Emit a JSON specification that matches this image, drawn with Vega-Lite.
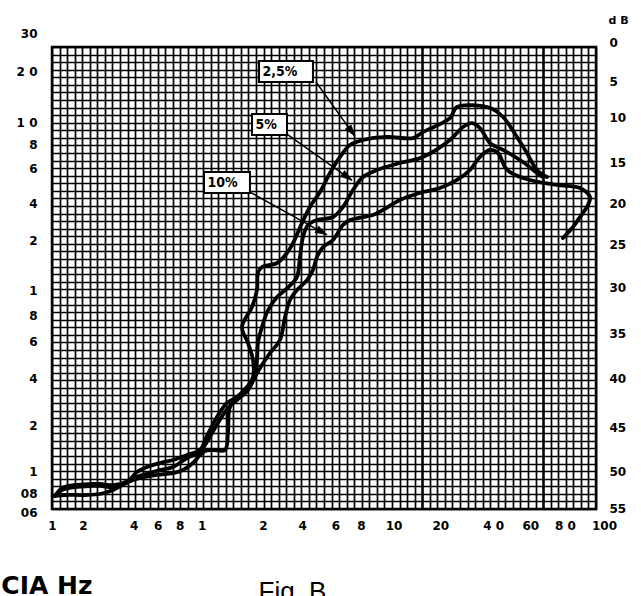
{
  "$schema": "https://vega.github.io/schema/vega-lite/v6.json",
  "width": 544,
  "height": 462,
  "autosize": "none",
  "padding": {"left": 52, "top": 47, "right": 45, "bottom": 87},
  "background": "white",
  "config": {
    "view": {"stroke": "#000", "strokeWidth": 2.5, "fill": "white"},
    "axis": {
      "labelFont": "DejaVu Sans",
      "labelFontWeight": "bold",
      "labelFontSize": 12,
      "labelColor": "#000",
      "labelOverlap": false,
      "labelFlush": false,
      "ticks": false,
      "domain": false,
      "gridColor": "#000",
      "gridWidth": 1.7,
      "gridOpacity": 1
    }
  },
  "datasets": {
    "curves": [
      {"series": "2,5%", "i": 0, "freq": 0.4, "level": 1.72},
      {"series": "2,5%", "i": 1, "freq": 1.32, "level": 2.77},
      {"series": "2,5%", "i": 2, "freq": 3.04, "level": 3.17},
      {"series": "2,5%", "i": 3, "freq": 5.03, "level": 3.3},
      {"series": "2,5%", "i": 4, "freq": 6.35, "level": 3.3},
      {"series": "2,5%", "i": 5, "freq": 8.34, "level": 3.17},
      {"series": "2,5%", "i": 6, "freq": 10.06, "level": 3.7},
      {"series": "2,5%", "i": 7, "freq": 11.25, "level": 4.89},
      {"series": "2,5%", "i": 8, "freq": 12.57, "level": 5.55},
      {"series": "2,5%", "i": 9, "freq": 14.29, "level": 6.07},
      {"series": "2,5%", "i": 10, "freq": 16.01, "level": 6.47},
      {"series": "2,5%", "i": 11, "freq": 17.87, "level": 7.13},
      {"series": "2,5%", "i": 12, "freq": 19.59, "level": 7.79},
      {"series": "2,5%", "i": 13, "freq": 20.51, "level": 9.64},
      {"series": "2,5%", "i": 14, "freq": 21.84, "level": 12.15},
      {"series": "2,5%", "i": 15, "freq": 23.16, "level": 14.0},
      {"series": "2,5%", "i": 16, "freq": 24.48, "level": 14.79},
      {"series": "2,5%", "i": 17, "freq": 25.81, "level": 16.11},
      {"series": "2,5%", "i": 18, "freq": 26.6, "level": 17.43},
      {"series": "2,5%", "i": 19, "freq": 26.6, "level": 19.67},
      {"series": "2,5%", "i": 20, "freq": 25.94, "level": 21.92},
      {"series": "2,5%", "i": 21, "freq": 25.15, "level": 24.03},
      {"series": "2,5%", "i": 22, "freq": 26.47, "level": 26.67},
      {"series": "2,5%", "i": 23, "freq": 27.13, "level": 28.91},
      {"series": "2,5%", "i": 24, "freq": 27.26, "level": 31.16},
      {"series": "2,5%", "i": 25, "freq": 27.79, "level": 31.95},
      {"series": "2,5%", "i": 26, "freq": 29.78, "level": 32.48},
      {"series": "2,5%", "i": 27, "freq": 31.1, "level": 33.8},
      {"series": "2,5%", "i": 28, "freq": 31.9, "level": 35.12},
      {"series": "2,5%", "i": 29, "freq": 33.09, "level": 37.76},
      {"series": "2,5%", "i": 30, "freq": 34.14, "level": 39.87},
      {"series": "2,5%", "i": 31, "freq": 35.47, "level": 41.85},
      {"series": "2,5%", "i": 32, "freq": 36.79, "level": 44.36},
      {"series": "2,5%", "i": 33, "freq": 38.12, "level": 46.48},
      {"series": "2,5%", "i": 34, "freq": 39.44, "level": 48.06},
      {"series": "2,5%", "i": 35, "freq": 41.16, "level": 48.72},
      {"series": "2,5%", "i": 36, "freq": 44.34, "level": 49.12},
      {"series": "2,5%", "i": 37, "freq": 47.78, "level": 48.98},
      {"series": "2,5%", "i": 38, "freq": 49.1, "level": 49.77},
      {"series": "2,5%", "i": 39, "freq": 52.67, "level": 51.62},
      {"series": "2,5%", "i": 40, "freq": 53.6, "level": 53.08},
      {"series": "2,5%", "i": 41, "freq": 57.97, "level": 52.94},
      {"series": "2,5%", "i": 42, "freq": 59.69, "level": 51.76},
      {"series": "2,5%", "i": 43, "freq": 61.54, "level": 49.12},
      {"series": "2,5%", "i": 44, "freq": 62.86, "level": 47.0},
      {"series": "2,5%", "i": 45, "freq": 64.19, "level": 44.76},
      {"series": "2,5%", "i": 46, "freq": 65.51, "level": 43.83},
      {"series": "5%", "i": 0, "freq": 0.4, "level": 1.72},
      {"series": "5%", "i": 1, "freq": 1.32, "level": 2.51},
      {"series": "5%", "i": 2, "freq": 3.04, "level": 2.9},
      {"series": "5%", "i": 3, "freq": 5.03, "level": 3.04},
      {"series": "5%", "i": 4, "freq": 6.35, "level": 3.04},
      {"series": "5%", "i": 5, "freq": 8.34, "level": 2.9},
      {"series": "5%", "i": 6, "freq": 10.06, "level": 3.56},
      {"series": "5%", "i": 7, "freq": 11.25, "level": 4.22},
      {"series": "5%", "i": 8, "freq": 12.97, "level": 4.75},
      {"series": "5%", "i": 9, "freq": 14.29, "level": 5.15},
      {"series": "5%", "i": 10, "freq": 16.01, "level": 5.55},
      {"series": "5%", "i": 11, "freq": 17.87, "level": 6.73},
      {"series": "5%", "i": 12, "freq": 19.59, "level": 7.53},
      {"series": "5%", "i": 13, "freq": 20.25, "level": 8.45},
      {"series": "5%", "i": 14, "freq": 21.57, "level": 10.69},
      {"series": "5%", "i": 15, "freq": 22.9, "level": 12.81},
      {"series": "5%", "i": 16, "freq": 24.22, "level": 14.39},
      {"series": "5%", "i": 17, "freq": 25.54, "level": 15.71},
      {"series": "5%", "i": 18, "freq": 26.87, "level": 17.43},
      {"series": "5%", "i": 19, "freq": 27.13, "level": 19.67},
      {"series": "5%", "i": 20, "freq": 27.26, "level": 21.92},
      {"series": "5%", "i": 21, "freq": 27.79, "level": 24.03},
      {"series": "5%", "i": 22, "freq": 28.6, "level": 26.27},
      {"series": "5%", "i": 23, "freq": 29.8, "level": 27.99},
      {"series": "5%", "i": 24, "freq": 31.3, "level": 29.31},
      {"series": "5%", "i": 25, "freq": 32.42, "level": 30.63},
      {"series": "5%", "i": 26, "freq": 32.82, "level": 33.27},
      {"series": "5%", "i": 27, "freq": 33.22, "level": 35.91},
      {"series": "5%", "i": 28, "freq": 33.88, "level": 37.5},
      {"series": "5%", "i": 29, "freq": 35.07, "level": 38.16},
      {"series": "5%", "i": 30, "freq": 37.19, "level": 38.55},
      {"series": "5%", "i": 31, "freq": 38.51, "level": 39.87},
      {"series": "5%", "i": 32, "freq": 39.84, "level": 42.12},
      {"series": "5%", "i": 33, "freq": 41.16, "level": 43.83},
      {"series": "5%", "i": 34, "freq": 43.01, "level": 44.76},
      {"series": "5%", "i": 35, "freq": 46.06, "level": 45.68},
      {"series": "5%", "i": 36, "freq": 49.1, "level": 46.48},
      {"series": "5%", "i": 37, "freq": 52.67, "level": 48.72},
      {"series": "5%", "i": 38, "freq": 54.39, "level": 50.44},
      {"series": "5%", "i": 39, "freq": 55.59, "level": 50.96},
      {"series": "5%", "i": 40, "freq": 56.64, "level": 50.3},
      {"series": "5%", "i": 41, "freq": 57.97, "level": 48.32},
      {"series": "5%", "i": 42, "freq": 58.89, "level": 47.79},
      {"series": "5%", "i": 43, "freq": 60.22, "level": 47.13},
      {"series": "5%", "i": 44, "freq": 62.33, "level": 45.81},
      {"series": "5%", "i": 45, "freq": 64.19, "level": 44.36},
      {"series": "5%", "i": 46, "freq": 64.98, "level": 43.83},
      {"series": "10%", "i": 0, "freq": 0.4, "level": 1.72},
      {"series": "10%", "i": 1, "freq": 1.72, "level": 1.85},
      {"series": "10%", "i": 2, "freq": 4.37, "level": 1.85},
      {"series": "10%", "i": 3, "freq": 6.35, "level": 1.98},
      {"series": "10%", "i": 4, "freq": 8.07, "level": 2.51},
      {"series": "10%", "i": 5, "freq": 10.06, "level": 3.56},
      {"series": "10%", "i": 6, "freq": 11.65, "level": 4.09},
      {"series": "10%", "i": 7, "freq": 13.9, "level": 4.49},
      {"series": "10%", "i": 8, "freq": 16.01, "level": 4.75},
      {"series": "10%", "i": 9, "freq": 17.34, "level": 5.15},
      {"series": "10%", "i": 10, "freq": 18.66, "level": 6.07},
      {"series": "10%", "i": 11, "freq": 19.59, "level": 7.13},
      {"series": "10%", "i": 12, "freq": 20.25, "level": 7.66},
      {"series": "10%", "i": 13, "freq": 21.31, "level": 7.79},
      {"series": "10%", "i": 14, "freq": 22.9, "level": 7.79},
      {"series": "10%", "i": 15, "freq": 23.29, "level": 10.03},
      {"series": "10%", "i": 16, "freq": 23.56, "level": 13.47},
      {"series": "10%", "i": 17, "freq": 24.48, "level": 14.39},
      {"series": "10%", "i": 18, "freq": 25.94, "level": 15.71},
      {"series": "10%", "i": 19, "freq": 27.13, "level": 17.96},
      {"series": "10%", "i": 20, "freq": 28.85, "level": 20.6},
      {"series": "10%", "i": 21, "freq": 30.17, "level": 22.31},
      {"series": "10%", "i": 22, "freq": 30.84, "level": 25.35},
      {"series": "10%", "i": 23, "freq": 31.5, "level": 27.59},
      {"series": "10%", "i": 24, "freq": 32.42, "level": 28.91},
      {"series": "10%", "i": 25, "freq": 33.75, "level": 30.23},
      {"series": "10%", "i": 26, "freq": 34.54, "level": 31.56},
      {"series": "10%", "i": 27, "freq": 35.07, "level": 33.27},
      {"series": "10%", "i": 28, "freq": 35.87, "level": 34.59},
      {"series": "10%", "i": 29, "freq": 37.19, "level": 35.52},
      {"series": "10%", "i": 30, "freq": 38.51, "level": 37.5},
      {"series": "10%", "i": 31, "freq": 39.44, "level": 38.16},
      {"series": "10%", "i": 32, "freq": 42.48, "level": 38.82},
      {"series": "10%", "i": 33, "freq": 43.81, "level": 39.48},
      {"series": "10%", "i": 34, "freq": 46.06, "level": 40.8},
      {"series": "10%", "i": 35, "freq": 49.1, "level": 41.85},
      {"series": "10%", "i": 36, "freq": 51.35, "level": 42.38},
      {"series": "10%", "i": 37, "freq": 53.6, "level": 43.44},
      {"series": "10%", "i": 38, "freq": 55.32, "level": 44.76},
      {"series": "10%", "i": 39, "freq": 56.64, "level": 46.48},
      {"series": "10%", "i": 40, "freq": 57.97, "level": 47.4},
      {"series": "10%", "i": 41, "freq": 59.03, "level": 47.0},
      {"series": "10%", "i": 42, "freq": 59.95, "level": 45.15},
      {"series": "10%", "i": 43, "freq": 60.61, "level": 44.49},
      {"series": "10%", "i": 44, "freq": 63.26, "level": 43.44},
      {"series": "10%", "i": 45, "freq": 66.83, "level": 42.78},
      {"series": "10%", "i": 46, "freq": 69.88, "level": 42.38},
      {"series": "10%", "i": 47, "freq": 71.2, "level": 41.19},
      {"series": "10%", "i": 48, "freq": 70.94, "level": 40.14},
      {"series": "10%", "i": 49, "freq": 69.88, "level": 38.55},
      {"series": "10%", "i": 50, "freq": 68.95, "level": 37.23},
      {"series": "10%", "i": 51, "freq": 67.63, "level": 35.78}
    ],
    "boxes": [
      {"label": "2,5%", "x": 27.4, "x2": 34.54, "y": 59.15, "y2": 56.38},
      {"label": "5%", "x": 26.47, "x2": 31.1, "y": 52.15, "y2": 49.38},
      {"label": "10%", "x": 20.12, "x2": 26.2, "y": 44.49, "y2": 41.72}
    ],
    "arrows": [
      {"label": "2,5%", "x": 34.94, "y": 56.38, "x2": 40.1, "y2": 49.2},
      {"label": "5%", "x": 31.1, "y": 49.51, "x2": 39.7, "y2": 43.4},
      {"label": "10%", "x": 26.2, "y": 41.85, "x2": 36.39, "y2": 36.2}
    ]
  },
  "resolve": {"axis": {"x": "independent", "y": "independent"}},
  "layer": [
    {
      "data": {"name": "curves"},
      "mark": {"type": "line", "color": "#000", "strokeWidth": 3.8, "strokeJoin": "round", "strokeCap": "round", "interpolate": "catmull-rom"},
      "encoding": {
        "x": {
          "field": "freq", "type": "quantitative",
          "scale": {"domain": [0, 72], "nice": false, "zero": false},
          "axis": {
            "orient": "top",
            "values": [0,1,2,3,4,5,6,7,8,9,10,11,12,13,14,15,16,17,18,19,20,21,22,23,24,25,26,27,28,29,30,31,32,33,34,35,36,37,38,39,40,41,42,43,44,45,46,47,48,49,50,51,52,53,54,55,56,57,58,59,60,61,62,63,64,65,66,67,68,69,70,71,72],
            "grid": true,
            "gridWidth": {"condition": {"test": "datum.value == 49 || datum.value == 65", "value": 2.6}, "value": 1.7},
            "labels": false,
            "title": "Fig. B",
            "titleFont": "Liberation Sans",
            "titleFontWeight": "normal",
            "titleFontSize": 26,
            "titleColor": "#000",
            "titleAlign": "left",
            "titleBaseline": "alphabetic",
            "titleX": 206,
            "titleY": 552
          }
        },
        "y": {
          "field": "level", "type": "quantitative",
          "scale": {"domain": [0, 61], "nice": false, "zero": false},
          "axis": {
            "orient": "right",
            "values": [0,1,2,3,4,5,6,7,8,9,10,11,12,13,14,15,16,17,18,19,20,21,22,23,24,25,26,27,28,29,30,31,32,33,34,35,36,37,38,39,40,41,42,43,44,45,46,47,48,49,50,51,52,53,54,55,56,57,58,59,60,61,56.4,51.7,45.7,40.3,34.9,29.3,23.2,17.2,10.8,4.9,0.1],
            "grid": true,
            "gridOpacity": {"condition": {"test": "datum.value % 1 != 0", "value": 0}, "value": 1},
            "labelExpr": "indexof([61,56.4,51.7,45.7,40.3,34.9,29.3,23.2,17.2,10.8,4.9,0.1], datum.value) >= 0 ? ['0','5','10','15','20','25','30','35','40','45','50','55'][indexof([61,56.4,51.7,45.7,40.3,34.9,29.3,23.2,17.2,10.8,4.9,0.1], datum.value)] : ''",
            "labelAlign": "left",
            "labelBaseline": "middle",
            "labelPadding": 13,
            "labelOffset": {"condition": {"test": "datum.value == 61", "value": -5}, "value": 0},
            "title": "d B",
            "titleAngle": 0,
            "titleFont": "DejaVu Sans",
            "titleFontWeight": "bold",
            "titleFontSize": 11,
            "titleColor": "#000",
            "titleAlign": "left",
            "titleBaseline": "alphabetic",
            "titleX": 12,
            "titleY": -24
          }
        },
        "detail": {"field": "series"},
        "order": {"field": "i", "type": "quantitative"}
      }
    },
    {
      "data": {"name": "boxes"},
      "mark": {"type": "rect", "fill": "white", "stroke": "#000", "strokeWidth": 2},
      "encoding": {
        "x": {
          "field": "x", "type": "quantitative",
          "scale": {"domain": [0, 72], "nice": false, "zero": false},
          "axis": {
            "orient": "bottom",
            "values": [0, 4.1, 10.8, 14, 16.9, 19.8, 27.9, 33.1, 37.5, 40.9, 45.2, 51.4, 58.4, 63.3, 67.9, 72],
            "grid": false,
            "labelExpr": "['1','2','4','6','8','1','2','4','6','8','10','20','4 0','60','8 0','100'][indexof([0,4.1,10.8,14,16.9,19.8,27.9,33.1,37.5,40.9,45.2,51.4,58.4,63.3,67.9,72], datum.value)]",
            "labelBaseline": "top",
            "labelAlign": "center",
            "labelPadding": 11,
            "labelOffset": {"condition": {"test": "datum.value == 72", "value": 8}, "value": 0},
            "title": "FRECUENCIA Hz",
            "titleFont": "DejaVu Sans",
            "titleFontWeight": 900,
            "titleFontSize": 25,
            "titleColor": "#000",
            "titleAlign": "right",
            "titleBaseline": "alphabetic",
            "titleX": 40,
            "titleY": 84
          }
        },
        "x2": {"field": "x2"},
        "y": {
          "field": "y", "type": "quantitative",
          "scale": {"domain": [0, 61], "nice": false, "zero": false},
          "axis": {
            "orient": "left",
            "values": [61, 57.7, 51, 48.1, 44.9, 40.4, 35.5, 28.9, 25.5, 22.1, 17.2, 11, 4.9, 2.1, 0],
            "grid": false,
            "labelExpr": "['30','2 0','1 0','8','6','4','2','1','8','6','4','2','1','08','06'][indexof([61,57.7,51,48.1,44.9,40.4,35.5,28.9,25.5,22.1,17.2,11,4.9,2.1,0], datum.value)]",
            "labelAlign": "right",
            "labelBaseline": "middle",
            "labelPadding": 15,
            "labelOffset": {"condition": [{"test": "datum.value == 61", "value": -14}, {"test": "datum.value == 0", "value": 3}], "value": 0},
            "title": null
          }
        },
        "y2": {"field": "y2"}
      }
    },
    {
      "data": {"name": "boxes"},
      "transform": [{"calculate": "(datum.y + datum.y2) / 2", "as": "ym"}],
      "mark": {"type": "text", "align": "left", "baseline": "middle", "dx": 3.5, "font": "DejaVu Sans Condensed", "fontWeight": "bold", "fontSize": 14, "color": "#000"},
      "encoding": {
        "x": {"field": "x", "type": "quantitative", "scale": {"domain": [0, 72], "nice": false, "zero": false}, "axis": null},
        "y": {"field": "ym", "type": "quantitative", "scale": {"domain": [0, 61], "nice": false, "zero": false}, "axis": null},
        "text": {"field": "label"}
      }
    },
    {
      "data": {"name": "arrows"},
      "mark": {"type": "rule", "color": "#000", "strokeWidth": 1.5},
      "encoding": {
        "x": {"field": "x", "type": "quantitative", "scale": {"domain": [0, 72], "nice": false, "zero": false}, "axis": null},
        "y": {"field": "y", "type": "quantitative", "scale": {"domain": [0, 61], "nice": false, "zero": false}, "axis": null},
        "x2": {"field": "x2"},
        "y2": {"field": "y2"}
      }
    },
    {
      "data": {"name": "arrows"},
      "transform": [{"calculate": "atan2(datum.x2 - datum.x, datum.y2 - datum.y) * 180 / PI", "as": "angle"}],
      "mark": {"type": "point", "shape": "M0,0L0.6,1.9L-0.6,1.9Z", "filled": true, "size": 150, "fill": "#000", "stroke": "#000", "strokeWidth": 0.5, "opacity": 1},
      "encoding": {
        "x": {"field": "x2", "type": "quantitative", "scale": {"domain": [0, 72], "nice": false, "zero": false}, "axis": null},
        "y": {"field": "y2", "type": "quantitative", "scale": {"domain": [0, 61], "nice": false, "zero": false}, "axis": null},
        "angle": {"field": "angle", "type": "quantitative", "scale": null}
      }
    }
  ]
}
